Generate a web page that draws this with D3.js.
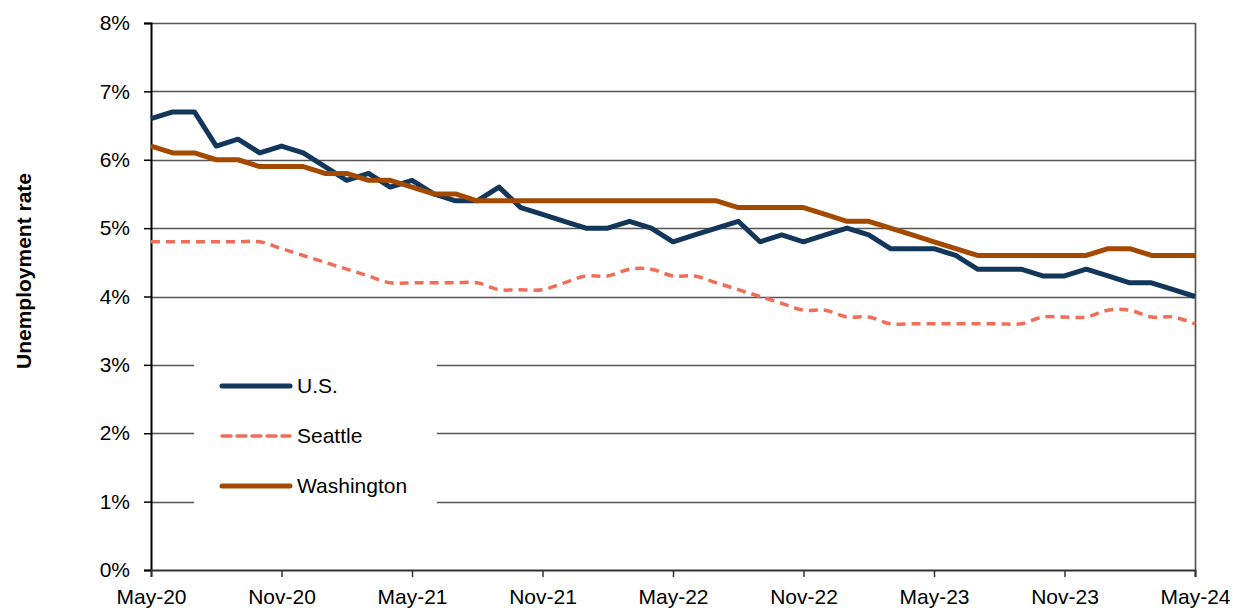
<!DOCTYPE html>
<html>
<head>
<meta charset="utf-8">
<script src="https://cdn.jsdelivr.net/npm/d3@7"></script>
<style>
  html, body { margin: 0; padding: 0; background: #fff; }
  svg { display: block; font-family: "Liberation Sans", Arial, sans-serif; }
</style>
</head>
<body>
<div id="chart"></div>
<script>
// monthly, May-20 .. May-24 (49 points)
const tickLabels = ["May-20", "Nov-20", "May-21", "Nov-21", "May-22", "Nov-22", "May-23", "Nov-23", "May-24"];

const us = [
  6.6, 6.7, 6.7, 6.2, 6.3, 6.1, 6.2, 6.1, 5.9, 5.7, 5.8, 5.6, 5.7,
  5.5, 5.4, 5.4, 5.6, 5.3, 5.2, 5.1, 5.0, 5.0, 5.1, 5.0, 4.8,
  4.9, 5.0, 5.1, 4.8, 4.9, 4.8, 4.9, 5.0, 4.9, 4.7, 4.7, 4.7,
  4.6, 4.4, 4.4, 4.4, 4.3, 4.3, 4.4, 4.3, 4.2, 4.2, 4.1, 4.0
];
const seattle = [
  4.8, 4.8, 4.8, 4.8, 4.8, 4.8, 4.7, 4.6, 4.5, 4.4, 4.3, 4.2, 4.2,
  4.2, 4.2, 4.2, 4.1, 4.1, 4.1, 4.2, 4.3, 4.3, 4.4, 4.4, 4.3,
  4.3, 4.2, 4.1, 4.0, 3.9, 3.8, 3.8, 3.7, 3.7, 3.6, 3.6, 3.6,
  3.6, 3.6, 3.6, 3.6, 3.7, 3.7, 3.7, 3.8, 3.8, 3.7, 3.7, 3.6
];
const washington = [
  6.2, 6.1, 6.1, 6.0, 6.0, 5.9, 5.9, 5.9, 5.8, 5.8, 5.7, 5.7, 5.6,
  5.5, 5.5, 5.4, 5.4, 5.4, 5.4, 5.4, 5.4, 5.4, 5.4, 5.4, 5.4,
  5.4, 5.4, 5.3, 5.3, 5.3, 5.3, 5.2, 5.1, 5.1, 5.0, 4.9, 4.8,
  4.7, 4.6, 4.6, 4.6, 4.6, 4.6, 4.6, 4.7, 4.7, 4.6, 4.6, 4.6
];
const yTicks = [0, 1, 2, 3, 4, 5, 6, 7, 8];

const series = [
  { name: "U.S.", values: us, color: "#12375a", width: 5, dash: null, curve: d3.curveLinear },
  { name: "Seattle", values: seattle, color: "#ee6e58", width: 3.5, dash: "9,6", curve: d3.curveCatmullRom },
  { name: "Washington", values: washington, color: "#a34a00", width: 5, dash: null, curve: d3.curveLinear }
];

const width = 1240, height = 616;
const margin = { left: 151, right: 45, top: 23, bottom: 46 };

const svg = d3.select("#chart").append("svg")
  .attr("width", width)
  .attr("height", height);

const x = d3.scaleLinear()
  .domain([0, us.length - 1])
  .range([margin.left, width - margin.right]);

const y = d3.scaleLinear()
  .domain([0, 8])
  .range([height - margin.bottom, margin.top]);

// gridlines
svg.append("g")
  .selectAll("line")
  .data(yTicks.filter(d => d > 0))
  .join("line")
  .attr("x1", x.range()[0])
  .attr("x2", x.range()[1])
  .attr("y1", d => Math.round(y(d)) + 0.5)
  .attr("y2", d => Math.round(y(d)) + 0.5)
  .attr("stroke", "#555")
  .attr("stroke-width", 1.7);

// right border
svg.append("line")
  .attr("x1", x.range()[1] + 0.5).attr("x2", x.range()[1] + 0.5)
  .attr("y1", y(8)).attr("y2", y(0))
  .attr("stroke", "#555")
  .attr("stroke-width", 1.7);

// y axis
const yAxis = svg.append("g")
  .attr("transform", `translate(${margin.left},0)`)
  .call(d3.axisLeft(y).tickValues(yTicks).tickFormat(d => d + "%").tickSize(7).tickPadding(14));
yAxis.select(".domain").attr("stroke", "#000").attr("stroke-width", 2);
yAxis.selectAll(".tick line").attr("stroke", "#000").attr("stroke-width", 1.5);
yAxis.selectAll("text").attr("font-size", 21).attr("fill", "#000")
  .attr("font-family", "Liberation Sans, Arial, sans-serif");

// x axis
const xAxis = svg.append("g")
  .attr("transform", `translate(0,${y(0)})`)
  .call(d3.axisBottom(x)
    .tickValues(d3.range(0, us.length, 6))
    .tickFormat((d, i) => tickLabels[i])
    .tickSize(7)
    .tickPadding(12));
xAxis.select(".domain").attr("stroke", "#333").attr("stroke-width", 2);
xAxis.selectAll(".tick line").attr("stroke", "#333").attr("stroke-width", 1.5);
xAxis.selectAll("text").attr("font-size", 21).attr("fill", "#000")
  .attr("font-family", "Liberation Sans, Arial, sans-serif");

// y label
svg.append("text")
  .attr("transform", `translate(31,271) rotate(-90)`)
  .attr("text-anchor", "middle")
  .attr("font-size", 21)
  .attr("font-weight", "bold")
  .text("Unemployment rate");

// lines
const line = d3.line()
  .x((d, i) => x(i))
  .y(d => y(d));

svg.append("g")
  .selectAll("path")
  .data(series)
  .join("path")
  .attr("d", s => line.curve(s.curve)(s.values))
  .attr("fill", "none")
  .attr("stroke", s => s.color)
  .attr("stroke-width", s => s.width)
  .attr("stroke-dasharray", s => s.dash)
  .attr("stroke-linejoin", "round");

// legend
const legend = svg.append("g");
legend.append("rect")
  .attr("x", 194).attr("y", 342)
  .attr("width", 243).attr("height", 176)
  .attr("fill", "#fff");

const items = legend.selectAll("g.item")
  .data(series)
  .join("g")
  .attr("class", "item")
  .attr("transform", (d, i) => `translate(0,${386 + i * 50})`);

items.append("line")
  .attr("x1", 222).attr("x2", 290)
  .attr("stroke", d => d.color)
  .attr("stroke-width", d => d.width)
  .attr("stroke-dasharray", d => d.dash)
  .attr("stroke-linecap", "round");

items.append("text")
  .attr("x", 297)
  .attr("dy", "0.35em")
  .attr("font-size", 21)
  .text(d => d.name);
</script>
</body>
</html>
